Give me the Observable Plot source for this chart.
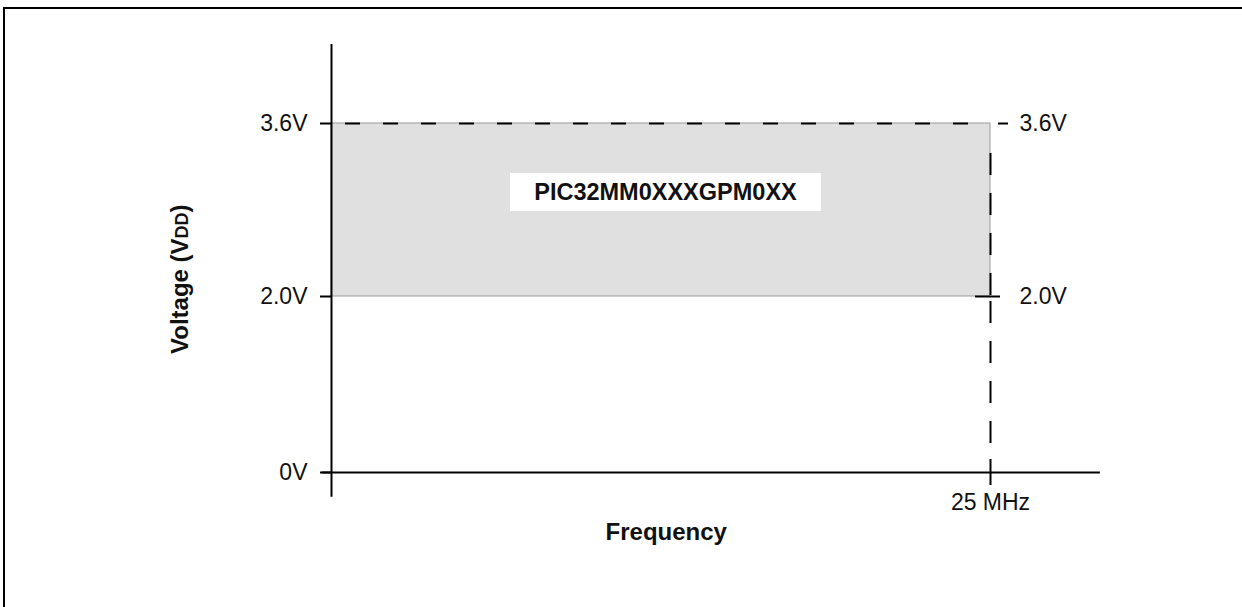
<!DOCTYPE html>
<html>
<head>
<meta charset="utf-8">
<script src="https://cdn.jsdelivr.net/npm/d3@7"></script>
<script src="https://cdn.jsdelivr.net/npm/@observablehq/plot@0.6"></script>
<style>
  html, body { margin: 0; padding: 0; background: #fff; }
  #wrap { position: relative; width: 1242px; height: 607px; overflow: hidden; }
  #frame { position: absolute; left: 3px; top: 7px; right: -10px; bottom: -10px; border-top: 2px solid #000; border-left: 2px solid #000; pointer-events: none; }
  svg { display: block; }
</style>
</head>
<body>
<div id="wrap"><div id="frame"></div></div>
<script>
// ---- data ----
const device = "PIC32MM0XXXGPM0XX";
const fMax = 25;                 // MHz
const vMin = 2.0, vMax = 3.6;    // V
const leftTicks = [0, 2.0, 3.6];
const leftTickLabels = ["0V", "2.0V", "3.6V"];
const rightTicks = [2.0, 3.6];
const rightTickLabels = ["2.0V", "3.6V"];
const xTickLabel = "25 MHz";
const xTitle = "Frequency";
const yTitle = "Voltage (VDD)";
const xAxisExtent = [-0.34, 29.17];
const yAxisExtent = [-0.28, 4.33];

const font = "Liberation Sans, Arial, Helvetica, sans-serif";
const region = [{x1: 0, x2: fMax, y1: vMin, y2: vMax}];

const chart = Plot.plot({
  width: 1242,
  height: 607,
  margin: 0,
  style: {fontFamily: font, background: "transparent", overflow: "visible"},
  x: {domain: [0, fMax], range: [331, 990], axis: null},
  y: {type: "linear", domain: [0, vMin, vMax], range: [472, 296, 123], axis: null},
  marks: [
    // operating region
    Plot.rect(region, {x1: "x1", x2: "x2", y1: "y1", y2: "y2", fill: "#e0e0e0", stroke: "#9a9a9a", strokeWidth: 1}),
    // dashed limit lines
    Plot.ruleY([vMax], {x1: 0, x2: fMax, stroke: "#000", strokeWidth: 2, strokeDasharray: "15,23", strokeDashoffset: 24}),
    Plot.ruleX([fMax], {y1: vMax, y2: vMin, stroke: "#000", strokeWidth: 2, strokeDasharray: "22,18", insetTop: 30}),
    Plot.ruleX([fMax], {y1: vMin, y2: 0, stroke: "#000", strokeWidth: 2, strokeDasharray: "22,18", insetTop: 5, insetBottom: 14}),
    // axes
    Plot.ruleY([0], {x1: xAxisExtent[0], x2: xAxisExtent[1], stroke: "#000", strokeWidth: 2}),
    Plot.ruleX([0], {y1: yAxisExtent[0], y2: yAxisExtent[1], stroke: "#000", strokeWidth: 2}),
    // left ticks + labels
    Plot.ruleY(leftTicks, {x1: 0, x2: 0, insetLeft: -11, stroke: "#000", strokeWidth: 2}),
    Plot.text(leftTicks, {x: 0, y: d => d, text: (d, i) => leftTickLabels[i], dx: -24, textAnchor: "end", fontSize: 23, fill: "#111"}),
    // right ticks + labels
    Plot.ruleY([rightTicks[1]], {x1: fMax, x2: fMax, insetLeft: 8, insetRight: -18, stroke: "#000", strokeWidth: 2}),
    Plot.ruleY([rightTicks[0]], {x1: fMax, x2: fMax, insetLeft: -15, insetRight: -10, stroke: "#000", strokeWidth: 2}),
    Plot.text(rightTicks, {x: fMax, y: d => d, text: (d, i) => rightTickLabels[i], dx: 29, textAnchor: "start", fontSize: 23, fill: "#111"}),
    // x tick at 25 MHz
    Plot.ruleX([fMax], {y1: 0, y2: 0, insetTop: -13, insetBottom: -13, stroke: "#000", strokeWidth: 2}),
    Plot.text([fMax], {x: d => d, y: 0, text: [xTickLabel], dy: 30, fontSize: 23, fill: "#111"}),
    // axis titles
    Plot.text([xTitle], {x: 12.7, y: 0, text: d => d, dy: 60, fontSize: 24, fontWeight: "bold", fill: "#111"}),
    Plot.text([yTitle], {x: -5.73, y: 2.16, text: d => d, rotate: -90, fontSize: 24, fontWeight: "bold", fill: "#111"}),
    // device label box
    Plot.rect([device], {x1: 12.67, x2: 12.67, y1: 2.962, y2: 2.962, insetLeft: -155, insetRight: -156, insetTop: -19, insetBottom: -19, fill: "#fff"}),
    Plot.text([device], {x: 12.67, y: 2.962, text: d => d, fontSize: 23.5, fontWeight: "bold", fill: "#111"})
  ]
});

document.getElementById("wrap").prepend(chart);

// smaller caps for "DD" in the y title
d3.select(chart).selectAll("text").filter(function() { return this.textContent === yTitle; })
  .each(function() {
    const t = d3.select(this);
    t.text(null);
    t.append("tspan").text("Voltage (V");
    t.append("tspan").attr("font-size", 18).text("DD");
    t.append("tspan").text(")");
  });
</script>
</body>
</html>
